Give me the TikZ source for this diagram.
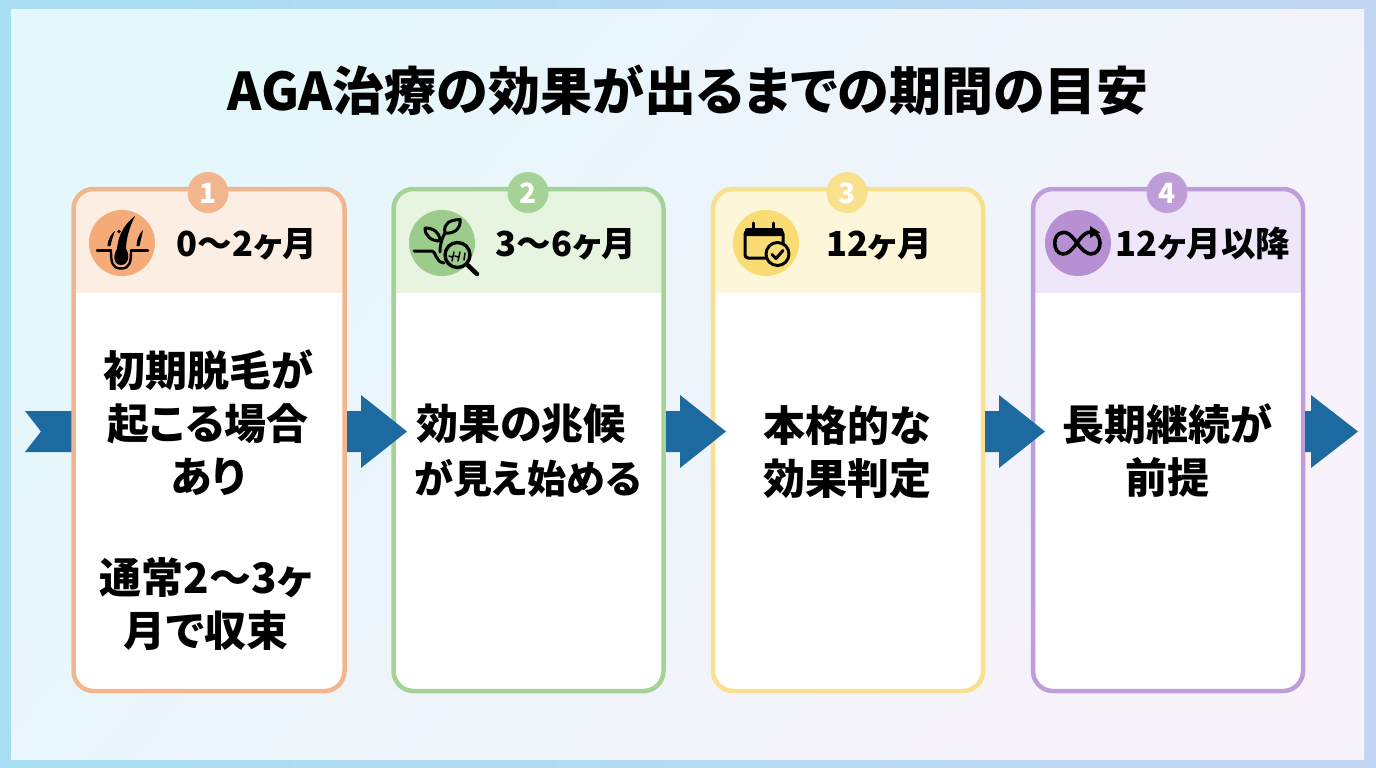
\documentclass[tikz,border=0pt]{standalone}
\usepackage{fontspec}
\setmainfont{Noto Sans CJK JP}
\newfontfamily\jpb[RawFeature=+palt]{Noto Sans CJK JP}
\usetikzlibrary{arrows.meta}
\definecolor{arrowblue}{HTML}{1C6A9F}
\definecolor{frameL}{HTML}{A8DEF2}\definecolor{frameM}{HTML}{B2DDF3}\definecolor{frameR}{HTML}{C2D6F3}
\definecolor{bgL}{HTML}{E4F7FB}\definecolor{bgM}{HTML}{F3FAFC}\definecolor{bgR}{HTML}{F8F2FB}
\definecolor{oS}{HTML}{F2B68F}\definecolor{oH}{HTML}{FDEEE3}\definecolor{oC}{HTML}{F4AB78}
\definecolor{gS}{HTML}{A5D296}\definecolor{gH}{HTML}{E6F4E0}\definecolor{gC}{HTML}{9CCC8C}
\definecolor{yS}{HTML}{F8E08C}\definecolor{yH}{HTML}{FEF6D9}\definecolor{yC}{HTML}{F9DC74}
\definecolor{pS}{HTML}{BF9DD9}\definecolor{pH}{HTML}{F0E6FA}\definecolor{pC}{HTML}{B78FD3}
\tikzset{
  x=1pt,y=-1pt,
  titlefont/.style={font=\jpb\bfseries\fontsize{52}{56}\selectfont,text=black,inner sep=0pt},
  headtext/.style={font=\jpb\bfseries\fontsize{34.5}{38}\selectfont,text=black,inner sep=0pt},
  bodytext/.style={font=\jpb\bfseries\fontsize{42}{53}\selectfont,text=black,inner sep=0pt,align=center},
  badgetext/.style={font=\jpb\bfseries\fontsize{28}{30}\selectfont,text=white,inner sep=0pt},
  blockarrow/.style={fill=arrowblue,draw=none},
  ink/.style={draw=black,line width=3pt,line cap=round,line join=round},
}
\newcommand{\cardbox}[9]{
  \begin{scope}
    \clip[rounded corners=20pt] (#1,189) rectangle (#2,691);
    \fill[white] (#1,189) rectangle (#2,691);
    \fill[#4] (#1,189) rectangle (#2,293);
  \end{scope}
  \draw[#3,line width=4.5pt,rounded corners=20pt] (#1,189) rectangle (#2,691);
  \node[circle,fill=#3,minimum size=41pt,inner sep=0pt] (badge#9) at (#6,192.5) {};
  \node[badgetext] (digit#9) at (#6,193) {#8};
  \node[circle,fill=#5,minimum size=66pt,inner sep=0pt] (icon#9) at (#7,243) {};
}
\newcommand{\rightarrowshape}[1]{
  \fill[blockarrow] (#1,411) -- ++(14,0) -- ++(0,-16) -- ++(46,36.5) -- ++(-46,36.5) -- ++(0,-16) -- ++(-14,0) -- cycle;
}
\begin{document}
\begin{tikzpicture}
\useasboundingbox (0,0) rectangle (1376,768);
\shade[left color=frameL,middle color=frameM,right color=frameR] (0,0) rectangle (1376,768);
\shade[left color=bgL,middle color=bgM,right color=bgR,shading angle=50] (11,10) rectangle (1364,759);

\node[titlefont] (title) at (688,90) {AGA治療の効果が出るまでの期間の目安};

\fill[blockarrow] (25,411) -- (73,411) -- (73,452) -- (25,452) -- (41,431.5) -- cycle;

\cardbox{73.5}{344.5}{oS}{oH}{oC}{208}{122}{1}{a}
\cardbox{393.5}{663.5}{gS}{gH}{gC}{528}{442}{2}{b}
\cardbox{713}{983}{yS}{yH}{yC}{847}{766}{3}{c}
\cardbox{1033}{1303}{pS}{pH}{pC}{1167}{1078}{4}{d}

\rightarrowshape{347}
\rightarrowshape{666}
\rightarrowshape{985}
\fill[blockarrow] (1305,411) -- (1311,411) -- (1311,395) -- (1358,431.5) -- (1311,468) -- (1311,452) -- (1305,452) -- cycle;

\node[headtext] (ha) at (247,244) {0〜2ヶ月};
\node[headtext] (hb) at (566,244) {3〜6ヶ月};
\node[headtext] (hc) at (879,244) {12ヶ月};
\node[headtext] (hd) at (1203,244) {12ヶ月以降};

\node[bodytext] (ba) at (208,423) {初期脱毛が\\起こる場合\\あり};
\node[bodytext] (bb) at (206,604) {通常2〜3ヶ\\月で収束};
\node[bodytext] (bc) at (521,424) {効果の兆候};
\node[bodytext,font=\jpb\bfseries\fontsize{39}{53}\selectfont] (bc2) at (528,478) {が見え始める};
\node[bodytext] (bd) at (847,452) {本格的な\\効果判定};
\node[bodytext] (be) at (1167,451) {長期継続が\\前提};

% hair icon
\draw[ink,line width=2.4pt] (97,250.5) -- (111,250.5) (131,250.5) -- (148,250.5);
\draw[ink,line width=2.4pt] (111,250.5) .. controls (111,262) and (112,268.5) .. (121,268.5) .. controls (130,268.5) and (131,262) .. (131,250.5);
\fill[black] (121,265) .. controls (113,265) and (113,254) .. (117,249) .. controls (118,238) and (122,226) .. (135,216) .. controls (129,228) and (126,240) .. (126,249) .. controls (130,254) and (129,265) .. (121,265) -- cycle;
\fill[black] (107.5,246) .. controls (107.5,240) and (111,234) .. (115,231) .. controls (113,236) and (111.5,241) .. (110.5,246) -- cycle;
\fill[black] (136.5,246) .. controls (136.5,240) and (139,234) .. (143,230) .. controls (142,236) and (140.5,241) .. (139.5,246) -- cycle;
\fill[black] (119,231.5) circle (1.8pt);

% plant + magnifier icon
\draw[ink] (414,251) -- (432,251) .. controls (436,251) and (435,262) .. (444,263);
\draw[ink] (440,252) .. controls (440,244) and (442,238) .. (445,233);
\draw[ink] (445,233) .. controls (443,223) and (450,220) .. (460,219.5) .. controls (461,229) and (454,234) .. (445,233) -- cycle;
\draw[ink] (440,241) .. controls (440,232) and (433,228) .. (425,228) .. controls (425,236) and (431,241) .. (440,241) -- cycle;
\draw[ink,line width=3.4pt] (457.5,255) circle (12.5pt);
\draw[ink,line width=4.5pt] (467,264.5) -- (477,274);
\draw[ink,line width=1.5pt] (452,261) -- (454,252) (452,257) -- (449,256) (458,261) -- (460,252) (458,257) -- (455,256) (464,260) -- (465,253);

% calendar icon
\draw[ink,rounded corners=3pt] (745,231) rectangle (783,258);
\fill[black,rounded corners=2pt] (745,228) rectangle (783,236);
\draw[ink] (753,223) -- (753,230) (773,223) -- (773,230);
\draw[ink,fill=yC] (777.5,254) circle (11.5pt);
\draw[ink] (772,254.5) -- (776,258.5) -- (783,250.5);

% infinity icon
\draw[ink,line width=3.6pt] (1077,243) .. controls (1070,233) and (1066,232) .. (1063,232.5) .. controls (1052,233) and (1052,253.5) .. (1063,254) .. controls (1068,254) and (1072,250) .. (1077,243) .. controls (1083,234) and (1087,232) .. (1091,232) .. controls (1103,233) and (1103,253.5) .. (1091,254) .. controls (1087,254) and (1082,250) .. (1077,243);
\fill[black] (1090,226) -- (1100,232.5) -- (1090,238) -- cycle;
\end{tikzpicture}
\end{document}
